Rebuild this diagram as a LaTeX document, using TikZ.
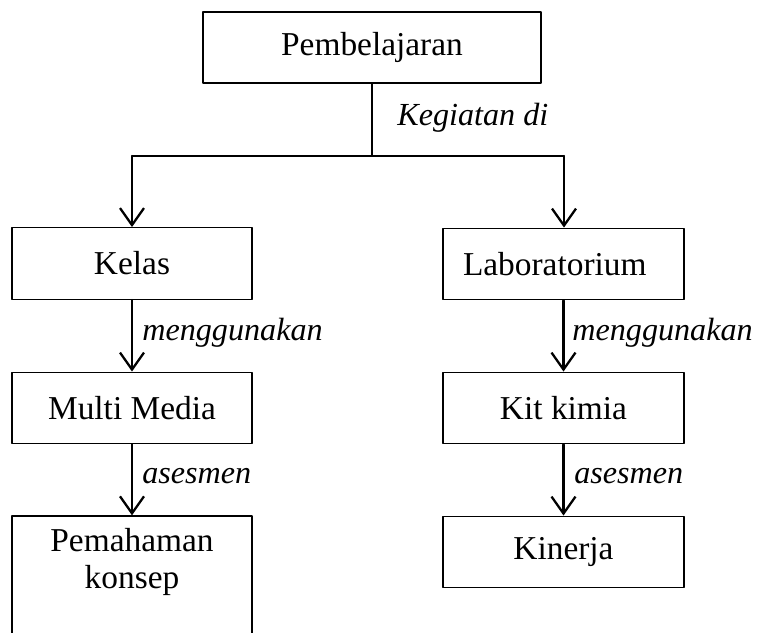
\documentclass[tikz,border=0pt]{standalone}
\usepackage{fontspec}
\setmainfont{Liberation Serif}
\usetikzlibrary{arrows.meta, positioning, calc}

\begin{document}
\begin{tikzpicture}[x=0.02cm, y=-0.02cm, >={Straight Barb[length=3.4mm, width=4.8mm]}, line join=round, line cap=round,
    kotak/.style={draw, line width=0.8pt, minimum width=4.8cm, minimum height=1.43cm, inner sep=0pt, font=\fontsize{19}{21.5}\selectfont},
    panah/.style={->, line width=1.3pt},
    ket/.style={anchor=base west, inner sep=0pt, font=\fontsize{18.3}{21}\selectfont\itshape}]
    \useasboundingbox (0,0) rectangle (757,632);

    \node[kotak, minimum width=6.76cm, minimum height=1.42cm] (ajar) at (372,47.5) {Pembelajaran};
    \node[kotak] (kelas) at (132,263.5) {Kelas};
    \node[kotak, minimum width=4.82cm, text width=4.02cm, align=left] (lab) at (563.5,264) {Laboratorium};
    \node[kotak] (media) at (132,408) {Multi Media};
    \node[kotak, minimum width=4.82cm] (kit) at (563.5,408) {Kit kimia};
    \node[kotak, minimum height=2.48cm] (paham) at (132,578) {};
    \node[align=center, inner sep=0pt, font=\fontsize{19}{21.5}\selectfont] (pahamteks) at (132,562) {Pemahaman\\konsep};
    \node[kotak, minimum width=4.82cm] (kinerja) at (563.5,552) {Kinerja};

    \coordinate (cabang) at (372,156);
    \coordinate (kiri) at (132,156);
    \coordinate (kanan) at (564,156);

    \draw[line width=0.8pt] (ajar.south) -- (cabang);
    \draw[line width=0.8pt] (kiri) -- (kanan);
    \draw[panah] (kiri) -- (kelas.north);
    \draw[panah] (kanan) -- (kanan |- lab.north);
    \draw[panah] (kelas) -- (media);
    \draw[panah] (media) -- (paham);
    \draw[panah] (lab) -- (kit);
    \draw[panah] (kit) -- (kinerja);

    \node[ket] at (397,125) {Kegiatan di};
    \node[ket] at (142,340) {menggunakan};
    \node[ket] at (572,340) {menggunakan};
    \node[ket] at (142,483) {asesmen};
    \node[ket] at (574,483) {asesmen};
\end{tikzpicture}
\end{document}
